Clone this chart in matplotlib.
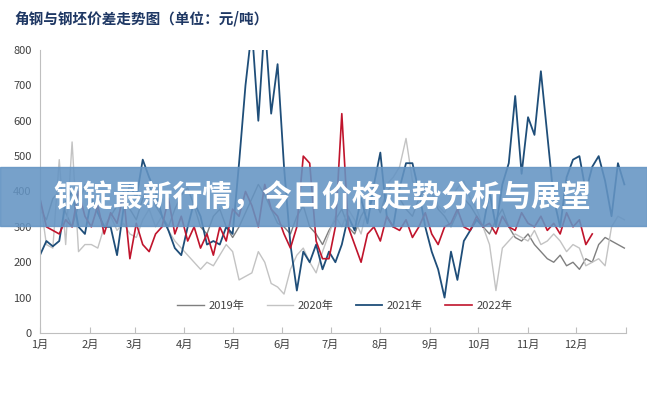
import numpy as np
import pandas as pd
import matplotlib
matplotlib.use("Agg")
import matplotlib.pyplot as plt
import matplotlib.dates as mdates
from matplotlib.patches import Rectangle

plt.rcParams['font.family'] = ['Noto Sans CJK SC', 'DejaVu Sans']

# spread between angle steel and billet, sampled every 4 days on a common calendar year
title = "角钢与钢坯价差走势图（单位：元/吨）"
banner = "钢锭最新行情，今日价格走势分析与展望"
month_labels = ["1月", "2月", "3月", "4月", "5月", "6月",
                "7月", "8月", "9月", "10月", "11月", "12月"]

y2019 = [350, 320, 380, 400, 340, 300, 360, 420,
         380, 340, 300, 330, 360, 400, 350,
         320, 380, 420, 360, 330, 300, 350, 390,
         410, 360, 300, 280, 330, 350, 300, 270,
         300, 340, 380, 420, 390, 350, 310,
         300, 280, 330, 360, 300, 280, 250, 290,
         320, 350, 300, 280, 330, 360, 380, 340,
         400, 420, 380, 350, 330, 380, 410,
         400, 350, 330, 300, 340, 380, 360, 330,
         300, 280, 320, 350, 300, 270, 260, 280,
         250, 230, 210, 200, 220, 190, 200,
         180, 210, 200, 250, 270, 260, 250, 240]

y2020 = [380, 250, 240, 490, 250, 540, 230, 250,
         250, 240, 300, 330, 290, 310, 280,
         270, 320, 350, 300, 330, 290, 260, 240,
         220, 200, 180, 200, 190, 220, 250, 230,
         150, 160, 170, 230, 200, 140, 130,
         110, 180, 220, 240, 200, 170, 230, 280,
         330, 300, 350, 320, 280, 360, 400, 380,
         420, 440, 470, 550, 430, 400, 410,
         400, 360, 340, 380, 410, 430, 380, 350,
         300, 250, 120, 240, 260, 280, 270, 260,
         290, 250, 260, 280, 260, 230, 250,
         240, 190, 200, 210, 190, 300, 330, 320]

y2021 = [220, 260, 245, 260, 370, 400, 300, 280,
         380, 340, 300, 300, 220, 350, 420,
         380, 490, 440, 400, 330, 290, 240, 220,
         300, 370, 330, 250, 260, 250, 300, 280,
         480, 700, 860, 600, 880, 620, 760,
         470, 250, 120, 230, 200, 250, 180, 230,
         200, 250, 330, 290, 380, 310, 420, 510,
         330, 300, 410, 480, 480, 400, 300,
         230, 180, 100, 230, 150, 260, 290, 320,
         300, 400, 300, 420, 480, 670, 450, 610,
         560, 740, 560, 380, 300, 440, 490,
         500, 400, 470, 500, 430, 330, 480, 420]

y2022 = [380, 300, 290, 280, 320, 300, 400, 330,
         300, 360, 280, 340, 310, 390, 210,
         310, 250, 230, 280, 300, 380, 280, 330,
         260, 300, 240, 280, 220, 300, 260, 350,
         330, 400, 360, 300, 420, 350, 330,
         280, 240, 300, 500, 480, 260, 210, 210,
         300, 620, 300, 250, 200, 280, 300, 260,
         330, 300, 290, 320, 270, 300, 340,
         280, 250, 300, 310, 350, 300, 290, 330,
         300, 310, 280, 330, 300, 290, 340, 310,
         300, 330, 290, 310, 280, 340, 300,
         320, 250, 280]

series = [("2019年", y2019, "#7f7f7f", 1.0),
          ("2020年", y2020, "#c3c3c3", 1.0),
          ("2021年", y2021, "#1f4e79", 1.3),
          ("2022年", y2022, "#c0142c", 1.2)]

fig = plt.figure(figsize=(6.47, 3.93), dpi=100)
ax = fig.add_axes([0.0618, 0.1527, 0.9057, 0.7201])

for name, vals, color, lw in series:
    dates = pd.date_range("2021-01-01", periods=len(vals), freq="4D")
    ax.plot(dates, vals, color=color, lw=lw, label=name)

ax.set_ylim(0, 800)
ax.set_xlim(pd.Timestamp("2021-01-01"), pd.Timestamp("2022-01-01"))
ax.set_yticks(range(0, 801, 100))
ax.xaxis.set_major_locator(mdates.MonthLocator())
ax.set_xticklabels(month_labels)
ax.tick_params(axis='x', direction='in', length=4, color='#bfbfbf',
               labelsize=8, labelcolor='#404040', pad=5)
ax.tick_params(axis='y', length=0, labelsize=8, labelcolor='#404040', pad=6)
for s in ['top', 'right']:
    ax.spines[s].set_visible(False)
ax.spines['left'].set_color('#bfbfbf')
ax.spines['bottom'].set_color('#bfbfbf')

leg = ax.legend(loc='center', bbox_to_anchor=(0.52, 0.095), ncol=4,
                frameon=False, fontsize=8, handlelength=2.4,
                columnspacing=2.0, handletextpad=0.4)
for t in leg.get_texts():
    t.set_color('#404040')

fig.text(0.023, 0.953, title, fontsize=10.5, fontweight='bold',
         color='#1f3864', va='center', ha='left')

fig.patches.append(Rectangle((0, 1 - 226 / 393), 1, 59 / 393,
                             transform=fig.transFigure, color='#6494c3',
                             alpha=0.88, zorder=5))
fig.text(0.498, 1 - 197 / 393, banner, fontsize=21.5, fontweight='heavy',
         color='white', ha='center', va='center', zorder=6)

fig.savefig("out.png", dpi=100)
